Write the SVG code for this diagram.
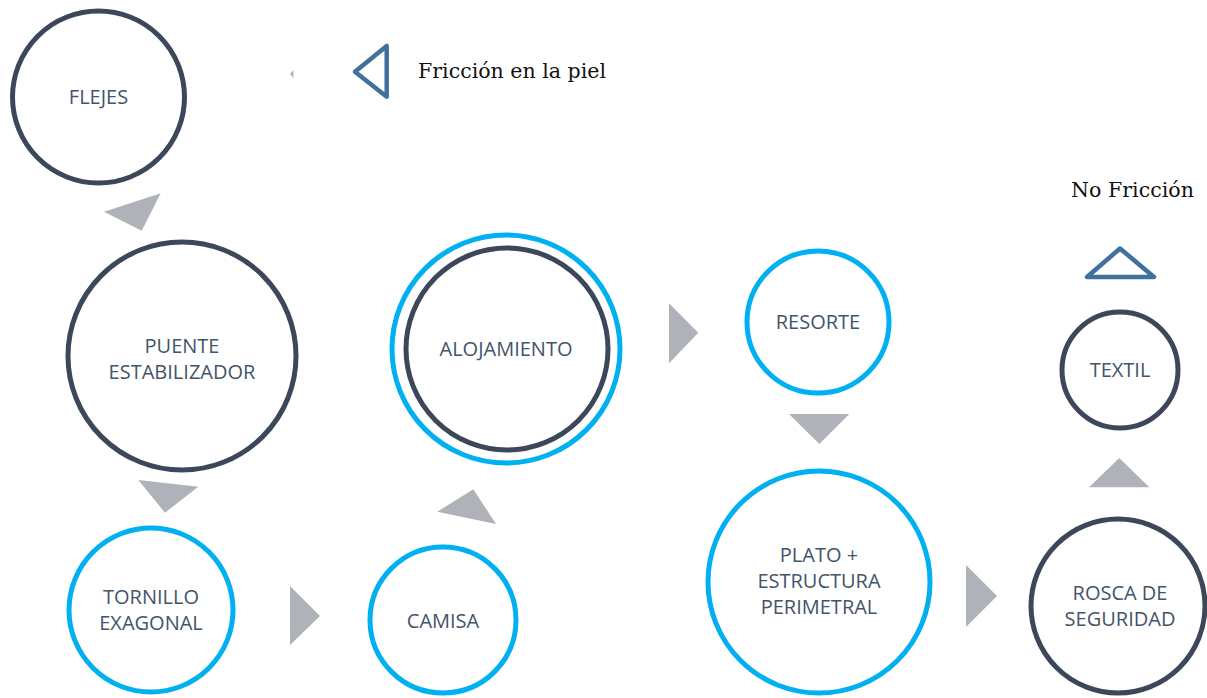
<svg xmlns="http://www.w3.org/2000/svg" width="1207" height="698" viewBox="0 0 1207 698">
<style>
.dk{fill:#fff;stroke:#3C4759;stroke-width:5}
.bl{fill:#fff;stroke:#00B0F0;stroke-width:5}
.lb{font-family:"Open Sans","Liberation Sans",sans-serif;font-size:20px;fill:#44546A;text-anchor:middle}
.ar{fill:#B0B2B9;stroke:none}
.lg{fill:none;stroke:#41709F;stroke-width:4.5;stroke-linejoin:round}
.lt{font-family:"DejaVu Serif","Liberation Serif",serif;font-size:20px;fill:#111}
</style>
<rect width="1207" height="698" fill="#fff"/>
<g id="connectors">
<polygon class="ar" points="104,211.7 160.7,193.3 141.7,230.7"/>
<polygon class="ar" points="138.3,480 198.3,486.7 165,512.7"/>
<polygon class="ar" points="290,586 320,616 290,645"/>
<polygon class="ar" points="437.3,511.7 473.3,489.3 496,524"/>
<polygon class="ar" points="669,303.3 698.3,332.7 669,363.3"/>
<polygon class="ar" points="789,414 849.3,414 819.3,444"/>
<polygon class="ar" points="966,565 997,596 966,627"/>
<polygon class="ar" points="1089,487.3 1119.3,458 1149.3,487.3"/>
<polygon class="ar" points="290,74 293.5,70 293.5,78"/>
</g>
<g id="legend">
<polygon class="lg" points="355,71.7 386.7,46 386.7,96.7"/>
<text class="lt" x="418" y="78" textLength="188" lengthAdjust="spacingAndGlyphs">Fricción en la piel</text>
<text class="lt" x="1071" y="197" textLength="123" lengthAdjust="spacingAndGlyphs">No Fricción</text>
<polygon class="lg" points="1087,277 1120,248.5 1154,277"/>
</g>
<g id="flejes">
<circle class="dk" cx="98.5" cy="97" r="86"/>
<text class="lb" x="98.5" y="104">FLEJES</text>
</g>
<g id="puente">
<circle class="dk" cx="182" cy="356" r="114"/>
<text class="lb" x="182" y="353">PUENTE</text>
<text class="lb" x="182" y="379">ESTABILIZADOR</text>
</g>
<g id="alojamiento">
<circle class="bl" cx="506" cy="349" r="114"/>
<circle class="dk" cx="507" cy="349" r="101"/>
<text class="lb" x="506" y="356">ALOJAMIENTO</text>
</g>
<g id="resorte">
<circle class="bl" cx="818" cy="322" r="71"/>
<text class="lb" x="818" y="329">RESORTE</text>
</g>
<g id="textil">
<circle class="dk" cx="1120" cy="370" r="58"/>
<text class="lb" x="1120" y="377">TEXTIL</text>
</g>
<g id="tornillo">
<circle class="bl" cx="151" cy="610" r="82"/>
<text class="lb" x="151" y="604">TORNILLO</text>
<text class="lb" x="151" y="630">EXAGONAL</text>
</g>
<g id="camisa">
<circle class="bl" cx="443" cy="620" r="73"/>
<text class="lb" x="443" y="628">CAMISA</text>
</g>
<g id="plato">
<circle class="bl" cx="819" cy="582" r="111"/>
<text class="lb" x="819" y="562">PLATO +</text>
<text class="lb" x="819" y="588">ESTRUCTURA</text>
<text class="lb" x="819" y="614">PERIMETRAL</text>
</g>
<g id="rosca">
<circle class="dk" cx="1118" cy="606" r="87"/>
<text class="lb" x="1120" y="600">ROSCA DE</text>
<text class="lb" x="1120" y="626">SEGURIDAD</text>
</g>
</svg>
